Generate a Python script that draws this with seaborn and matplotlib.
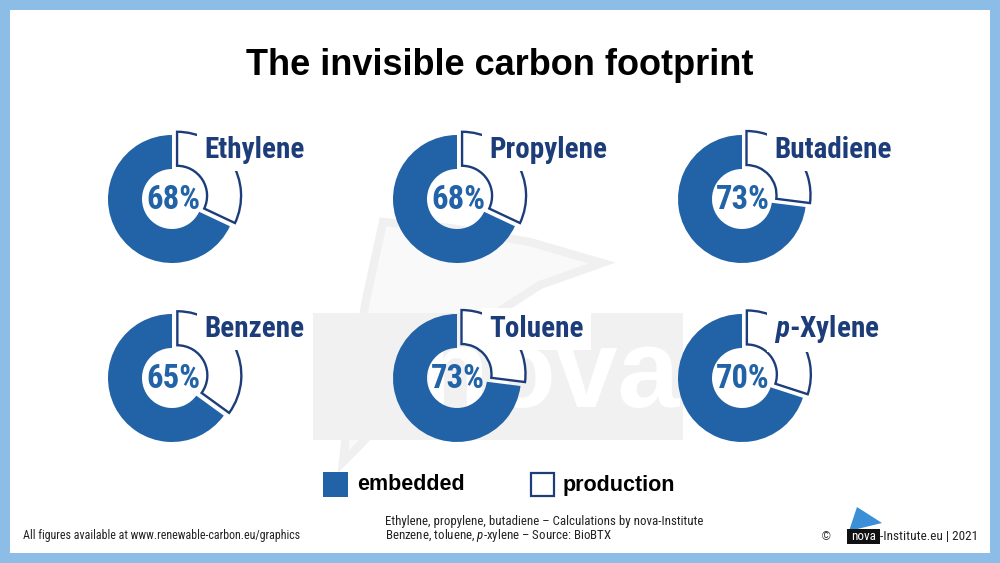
import matplotlib
matplotlib.use('Agg')
import matplotlib.pyplot as plt
import seaborn as sns
from matplotlib.patches import Rectangle, Polygon

# values
chemicals = ['Ethylene', 'Propylene', 'Butadiene', 'Benzene', 'Toluene', '$p$-Xylene']
embedded = [68, 68, 73, 65, 73, 70]
production = [100 - v for v in embedded]
legend_labels = ['embedded', 'production']

sns.set_theme(style='white')
plt.rcParams['font.family'] = ['Liberation Sans', 'DejaVu Sans']
plt.rcParams['mathtext.fontset'] = 'custom'
plt.rcParams['mathtext.it'] = 'Roboto Condensed:italic:bold'
plt.rcParams['mathtext.rm'] = 'Roboto Condensed:bold'
plt.rcParams['mathtext.sf'] = 'Roboto Condensed:italic'

blue, navy = sns.color_palette(['#2262a6', '#1c3d7a'])
frame_blue = '#8cbde6'
narrow = ['Roboto Condensed', 'Roboto', 'DejaVu Sans']

W, H = 1000, 563
fig = plt.figure(figsize=(10, 5.63), dpi=100)
ax = fig.add_axes([0, 0, 1, 1])


def Y(y):
    # image y (top down) -> data y
    return H - y


# frame
ax.add_patch(Rectangle((0, 0), W, H, facecolor=frame_blue, edgecolor='none', zorder=0))
ax.add_patch(Rectangle((10, 10), W - 20, H - 20, facecolor='white', edgecolor='none', zorder=0.5))

# faint watermark
sail = [(343, 462), (352, 380), (366, 300), (383, 222), (450, 228), (530, 242), (602, 263),
        (540, 285), (470, 330), (410, 390), (360, 445)]
ax.add_patch(Polygon([(x, Y(y)) for x, y in sail], closed=True, facecolor='#f9f9f9',
                     edgecolor='#f0f0f0', lw=6, zorder=1))
ax.add_patch(Rectangle((313, Y(440)), 370, 127, facecolor='#f1f1f1', edgecolor='none', zorder=1.2))
ax.text(680, Y(407), 'nova', fontsize=80, fontweight='bold', color='white',
        ha='right', va='baseline', zorder=1.3)

# title
ax.text(500, Y(75), 'The invisible carbon footprint', fontsize=26, fontweight='bold',
        color='black', ha='center', va='baseline', zorder=5)

# donuts
col_x = [172, 457, 742]
row_y = [199, 378]
r_out, ring = 64, 34
for i, name in enumerate(chemicals):
    cx = col_x[i % 3]
    cy = Y(row_y[i // 3])
    wedges, _ = ax.pie([embedded[i], production[i]], center=(cx, cy), radius=r_out,
                       startangle=90, counterclock=True, explode=[0, 6],
                       colors=[blue, 'white'],
                       wedgeprops=dict(width=ring, linewidth=0))
    wedges[0].set_zorder(3)
    wedges[1].set_edgecolor(navy)
    wedges[1].set_linewidth(1.7)
    wedges[1].set_zorder(3)
    ax.text(cx + 1, cy - 1, f'{embedded[i]}%', fontsize=23.5, fontweight='bold', family=narrow,
            color=blue, ha='center', va='center', zorder=4)
    ax.text(cx + 32, cy + 41, name, fontsize=21, fontweight='bold', family=narrow,
            color=navy, ha='left', va='baseline', zorder=4,
            bbox=dict(boxstyle='square,pad=0.25', facecolor='white', edgecolor='none'))

# legend
ax.add_patch(Rectangle((323, Y(497)), 25, 25, facecolor=blue, edgecolor='none', zorder=4))
ax.text(357, Y(485), legend_labels[0], fontsize=15.5, fontweight='bold', color='black',
        ha='left', va='center', zorder=4)
ax.add_patch(Rectangle((531, Y(496)), 23, 23, facecolor='white', edgecolor=navy, lw=1.6, zorder=4))
ax.text(563, Y(485), legend_labels[1], fontsize=15.5, fontweight='bold', color='black',
        ha='left', va='center', zorder=4)

# footer
ax.text(23, Y(536), 'All figures available at www.renewable-carbon.eu/graphics', fontsize=8.6,
        family=narrow, color='#222222', ha='left', va='center', zorder=4)
ax.text(385, Y(522), 'Ethylene, propylene, butadiene \u2013 Calculations by nova-Institute',
        fontsize=9.3, family=narrow, color='#222222', ha='left', va='center', zorder=4)
ax.text(385, Y(536), 'Benzene, toluene, $\\mathsf{p}$-xylene \u2013 Source: BioBTX',
        fontsize=9.3, family=narrow, color='#222222', ha='left', va='center', zorder=4)
ax.text(822, Y(537), '\u00a9', fontsize=8.5, color='#222222', ha='left', va='center', zorder=4)
ax.add_patch(Polygon([(849, Y(531)), (857, Y(507)), (882, Y(523))], closed=True,
                     facecolor='#3a8fd6', edgecolor='none', zorder=4))
ax.add_patch(Rectangle((847, Y(544)), 33, 15, facecolor='#111111', edgecolor='none', zorder=4.5))
ax.text(863.5, Y(537), 'nova', fontsize=9.5, color='white', ha='center', va='center',
        family=narrow, zorder=5)
ax.text(880, Y(537), '-Institute.eu | 2021', fontsize=9.5, family=narrow, color='#222222',
        ha='left', va='center', zorder=4)

ax.set_xlim(0, W)
ax.set_ylim(0, H)
ax.set_axis_off()
fig.savefig('out.png', dpi=100)
